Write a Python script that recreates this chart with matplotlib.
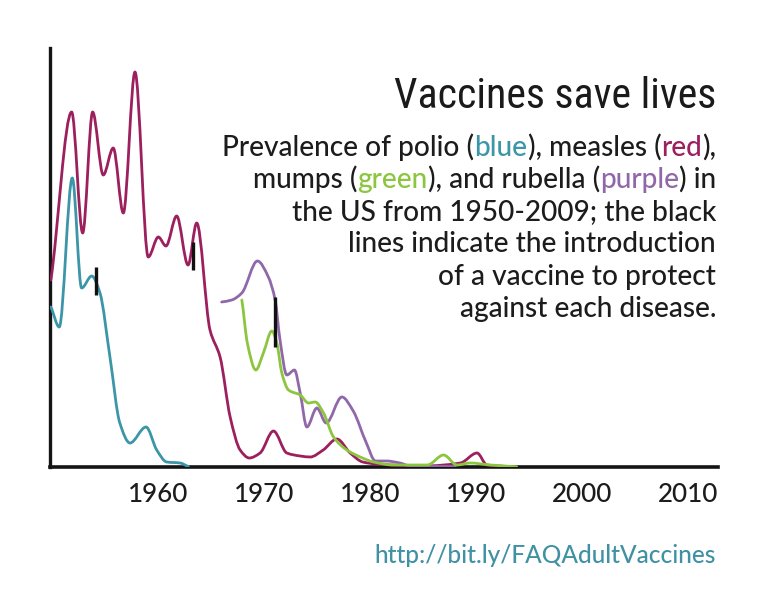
import matplotlib
matplotlib.use('Agg')
import matplotlib.pyplot as plt
from matplotlib.path import Path
from matplotlib.patches import PathPatch
from matplotlib import font_manager as fm
import numpy as np

# ---------------- data (relative prevalence) ----------------
polio_years = [1949.9, 1950.69, 1951.92, 1952.8, 1953.75, 1954.53, 1955.47, 1956.4,
               1957.36, 1958.87, 1959.88, 1960.82, 1962.08, 1962.86]
polio_vals = [160, 140, 289, 179, 191, 174, 110, 44, 24, 40, 17, 5, 4, 0.5]

measles_years = [1949.9, 1951.86, 1952.9, 1953.84, 1954.84, 1955.78, 1956.73, 1957.83,
                 1959.08, 1960.03, 1960.75, 1961.76, 1962.83, 1963.65, 1964.9, 1965.85,
                 1966.8, 1967.74, 1968.6, 1969.62, 1970.88, 1972.14, 1973.4, 1974.34,
                 1975.57, 1976.86, 1978.11, 1979.3, 1980.6, 1985.0, 1988.5, 1990.07,
                 1991.0, 1993.0]
measles_vals = [187, 355, 234, 355, 292, 319, 254, 395, 210, 230, 221, 251, 202, 244,
                137, 110, 50, 17, 9, 14, 36, 14, 11, 10, 17, 28, 14, 5, 3, 1, 4, 14,
                2, 0.5]

rubella_years = [1966.0, 1966.95, 1967.9, 1969.37, 1970.4, 1971.04, 1971.5, 1972.14,
                 1972.86, 1973.4, 1974.03, 1974.97, 1975.85, 1977.33, 1978.4, 1979.6,
                 1980.5, 1981.5, 1982.8, 1983.8, 1988.0]
rubella_vals = [165, 167, 174, 206, 190, 167, 127, 92, 97, 74, 40, 59, 44, 70, 56, 25,
                6, 6, 4, 1, 0.5]

mumps_years = [1967.9, 1968.42, 1969.22, 1969.93, 1970.73, 1971.2, 1971.67, 1972.3,
               1973.4, 1974.18, 1974.81, 1975.6, 1976.54, 1977.8, 1979.06, 1980.31,
               1982.2, 1985.38, 1986.92, 1988.18, 1989.43, 1991.32, 1993.8]
mumps_vals = [167, 124, 97, 114, 136, 124, 94, 77, 72, 64, 65, 54, 30, 17, 10, 5, 2, 2,
              12, 2, 4, 2, 0.3]

vaccine_years = [1954.12, 1963.33, 1971.04]
vaccine_low = [172, 197, 120]
vaccine_high = [200, 225, 170]

tick_years = [1960, 1970, 1980, 1990, 2000, 2010]
tick_labels = ['1960', '1970', '1980', '1990', '2000', '2010']

title_text = 'Vaccines save lives'
subtitle_lines = [
    [('Prevalence of polio (', 'k'), ('blue', 'blue'), ('), measles (', 'k'),
     ('red', 'red'), (')' + ',', 'k')],
    [('mumps (', 'k'), ('green', 'green'), ('), and rubella (', 'k'),
     ('purple', 'purple'), (') in', 'k')],
    [('the US from 1950-2009; the black', 'k')],
    [('lines indicate the introduction', 'k')],
    [('of a vaccine to protect', 'k')],
    [('against each disease.', 'k')],
]
url_text = 'http://bit.ly/FAQAdultVaccines'

# ---------------- styles ----------------
COL = {'blue': '#3d95a8', 'red': '#9c1f5e', 'green': '#8cc63f',
       'purple': '#9068aa', 'k': '#1c1c1c'}
URL_COL = '#3f91a3'


def pick(fams):
    for f in fams:
        try:
            fm.findfont(fm.FontProperties(family=f), fallback_to_default=False)
            return f
        except Exception:
            pass
    return 'DejaVu Sans'


BODY = pick(['Lato', 'Open Sans', 'Noto Sans'])
TITLE = pick(['Liberation Sans Narrow', 'Roboto Condensed', 'DejaVu Sans Condensed', 'Liberation Sans'])

W, H = 768, 602
fig = plt.figure(figsize=(W / 100, H / 100), dpi=100)
fig.patch.set_facecolor('white')


def fx(px):
    return px / W


def fy(py):
    return 1 - py / H


ax = fig.add_axes([fx(50), 1 - 467 / H, 668 / W, 419 / H])
ax.set_xlim(1949.82, 2012.78)
ax.set_ylim(0, 419)
for s in ['top', 'right']:
    ax.spines[s].set_visible(False)
ax.spines['left'].set_linewidth(2.4)
ax.spines['bottom'].set_linewidth(2.6)
ax.spines['left'].set_color('#141414')
ax.spines['bottom'].set_color('#141414')
ax.set_yticks([])
ax.set_xticks(tick_years)
ax.set_xticklabels(tick_labels)
ax.tick_params(axis='x', length=0, pad=10.5, colors='#1c1c1c')


def pchip_path(x, y):
    x = np.asarray(x, float)
    y = np.asarray(y, float)
    h = np.diff(x)
    d = np.diff(y) / h
    m = np.zeros_like(y)
    for i in range(1, len(x) - 1):
        if d[i - 1] * d[i] <= 0:
            m[i] = 0.0
        else:
            w1 = 2 * h[i] + h[i - 1]
            w2 = h[i] + 2 * h[i - 1]
            m[i] = (w1 + w2) / (w1 / d[i - 1] + w2 / d[i])
    m[0] = d[0] * 0.8
    m[-1] = d[-1] * 0.8
    verts = [(x[0], y[0])]
    codes = [Path.MOVETO]
    for i in range(len(h)):
        verts += [(x[i] + h[i] / 3, y[i] + m[i] * h[i] / 3),
                  (x[i + 1] - h[i] / 3, y[i + 1] - m[i + 1] * h[i] / 3),
                  (x[i + 1], y[i + 1])]
        codes += [Path.CURVE4] * 3
    return Path(verts, codes)


for xs, ys, c in [(polio_years, polio_vals, COL['blue']),
                  (measles_years, measles_vals, COL['red']),
                  (rubella_years, rubella_vals, COL['purple']),
                  (mumps_years, mumps_vals, COL['green'])]:
    ax.add_patch(PathPatch(pchip_path(xs, ys), fill=False, edgecolor=c, lw=2.0,
                           capstyle='round', joinstyle='round', zorder=3))

ax.vlines(vaccine_years, vaccine_low, vaccine_high, colors='#111111', lw=2.4, zorder=5)

renderer = fig.canvas.get_renderer()


def text_w(s, prop):
    w, h, d = renderer.get_text_width_height_descent(s, prop, ismath=False)
    return w


# tick label size fit
tprop = fm.FontProperties(family=BODY, size=20, weight=500)
fs_tick = 20 * 60 / text_w('1960', tprop)
for lab in ax.get_xticklabels():
    lab.set_fontfamily(BODY)
    lab.set_fontweight(500)
    lab.set_fontsize(fs_tick)

# title
RIGHT = 716
pt = fm.FontProperties(family=TITLE, size=40)
fs_title = 40 * 323 / text_w(title_text, pt)
fig.text(fx(RIGHT), fy(108.3), title_text, ha='right', va='baseline',
         fontproperties=fm.FontProperties(family=TITLE, size=fs_title), color='#1a1a1a')

# subtitle
sp = fm.FontProperties(family=BODY, size=20, weight=500)
line1 = ''.join(s for s, _ in subtitle_lines[0])
fs_sub = 20 * 494 / text_w(line1, sp)
sp = fm.FontProperties(family=BODY, size=fs_sub, weight=500)
base0 = 155.7
step = 32.2
for li, segs in enumerate(subtitle_lines):
    full = ''.join(s for s, _ in segs)
    Wfull = text_w(full, sp)
    x0 = RIGHT - Wfull
    acc = ''
    for s, c in segs:
        acc += s
        start = x0 + text_w(acc, sp) - text_w(s, sp)
        fig.text(fx(start), fy(base0 + li * step), s, ha='left', va='baseline',
                 fontproperties=sp, color=COL[c])

# url
up = fm.FontProperties(family=BODY, size=20, weight=500)
fs_url = 20 * 342 / text_w(url_text, up)
fig.text(fx(RIGHT), fy(563), url_text, ha='right', va='baseline',
         fontproperties=fm.FontProperties(family=BODY, size=fs_url, weight=500),
         color=URL_COL)

fig.savefig('out.png', dpi=100, facecolor='white')
